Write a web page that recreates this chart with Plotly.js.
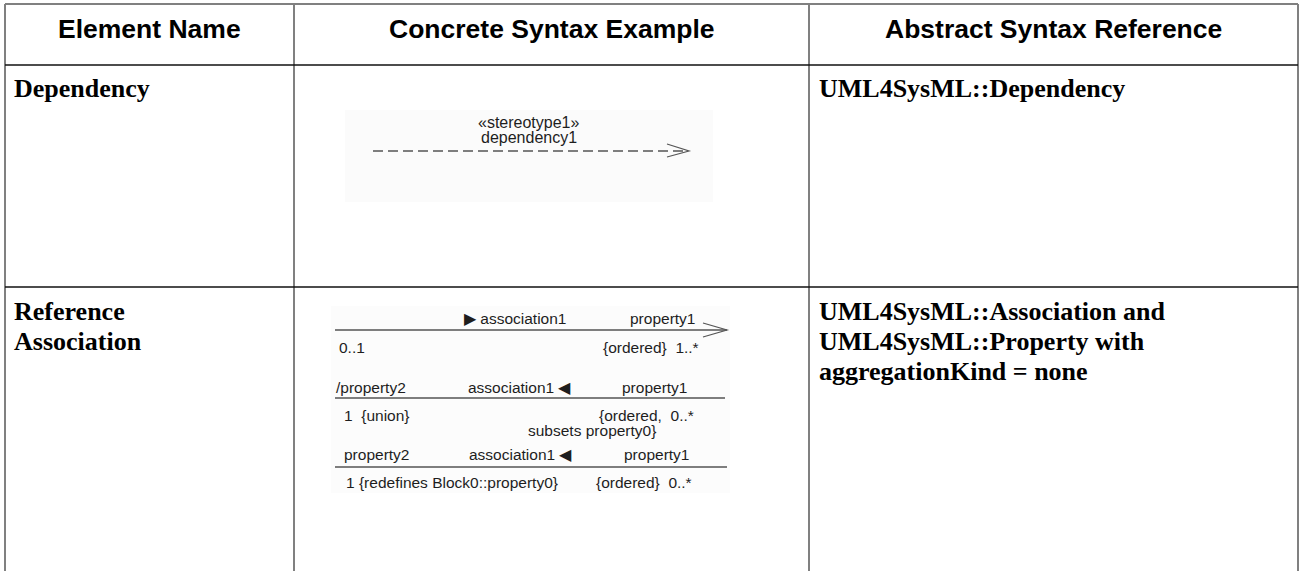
<!DOCTYPE html>
<html>
<head>
<meta charset="utf-8">
<script src="https://cdn.plot.ly/plotly-3.0.1.min.js"></script>
<style>
  html, body { margin: 0; padding: 0; background: #ffffff; }
  #chart { width: 1304px; height: 571px; }
</style>
</head>
<body>
<div id="chart"></div>
<script>
// ---- table content ----
const headerLabels = ['Element Name', 'Concrete Syntax Example', 'Abstract Syntax Reference'];
const elementNames = [['Dependency'], ['Reference', 'Association']];
const abstractRefs = [
  ['UML4SysML::Dependency'],
  ['UML4SysML::Association and', 'UML4SysML::Property with', 'aggregationKind = none']
];

// ---- diagram texts ----
const dependencyLabels = ['«stereotype1»', 'dependency1'];
const assocNameLabels = ['\u25B6 association1', 'association1 \u25C0', 'association1 \u25C0'];
const assocLeftTop = ['', '/property2', 'property2'];
const assocRightTop = ['property1', 'property1', 'property1'];
const assocLeftBottom = ['0..1', '1  {union}', '1 {redefines Block0::property0}'];
const assocRightBottom = ['{ordered}  1..*', '{ordered,  0..*', '{ordered}  0..*'];
const assocExtra = ['', 'subsets property0}', ''];

const SANS = 'Liberation Sans, Arial, sans-serif';
const SERIF = 'Liberation Serif, Times New Roman, serif';
const annotations = [];
const shapes = [];

function txt(x, y, text, font, xanchor) {
  annotations.push({
    x: x, y: y, xref: 'x', yref: 'y', text: text, showarrow: false,
    xanchor: xanchor || 'left', yanchor: 'middle', font: font, borderpad: 0
  });
}
function line(x0, y0, x1, y1, color, width, dash) {
  shapes.push({type: 'line', xref: 'x', yref: 'y', x0: x0, y0: y0, x1: x1, y1: y1,
    line: {color: color, width: width, dash: dash || 'solid'}});
}
function path(d, color, width) {
  shapes.push({type: 'path', xref: 'x', yref: 'y', path: d,
    line: {color: color, width: width}});
}

// ---- diagram backgrounds ----
shapes.push({type: 'rect', xref: 'x', yref: 'y', x0: 345, y0: 110, x1: 713, y1: 202,
  fillcolor: '#fbfbfb', line: {width: 0}, layer: 'below'});
shapes.push({type: 'rect', xref: 'x', yref: 'y', x0: 331, y0: 306, x1: 730, y1: 493,
  fillcolor: '#fcfcfc', line: {width: 0}, layer: 'below'});

// ---- table grid ----
const colX = [5, 294, 809, 1298];
const GRAY = '#808080';
line(colX[0], 4, colX[3], 4, GRAY, 2);
colX.forEach(function (x) { line(x, 4, x, 571, GRAY, 2); });
line(colX[0], 65, colX[3], 65, '#111111', 1.5);
line(colX[0], 287, colX[3], 287, '#111111', 1.5);

// ---- header ----
const hdrFont = {family: SANS, size: 26.5, color: '#000000', weight: 700};
headerLabels.forEach(function (h, i) {
  txt((colX[i] + colX[i + 1]) / 2, 29, '<b>' + h + '</b>', hdrFont, 'center');
});

// ---- body text ----
const bodyFont = {family: SERIF, size: 26, color: '#000000'};
const rowTop = [88, 311];
elementNames.forEach(function (lines, r) {
  lines.forEach(function (t, k) { txt(13, rowTop[r] + k * 30, '<b>' + t + '</b>', bodyFont, 'left'); });
});
abstractRefs.forEach(function (lines, r) {
  lines.forEach(function (t, k) { txt(818, rowTop[r] + k * 30, '<b>' + t + '</b>', bodyFont, 'left'); });
});

// ---- dependency diagram ----
const diaFont = {family: SANS, size: 15.5, color: '#1e1e1e'};
const LC = '#555555';
txt(529, 122, dependencyLabels[0], {family: SANS, size: 16, color: '#1e1e1e'}, 'center');
txt(529, 137, dependencyLabels[1], {family: SANS, size: 16, color: '#1e1e1e'}, 'center');
line(373, 151, 687, 151, LC, 1.3, '10px,5px');
path('M 667 144 L 689 151 L 667 157', LC, 1.2);

// ---- reference association diagram ----
const rowY = [318, 387, 454];       // label row above each line
const lineY = [330, 398, 467];
const lineEnd = [727, 725, 727];
const belowY = [347, 415, 482];
const nameX = [463, 467, 468];
const rightX = [696, 688, 690];
const leftX = [335, 335, 343];
const leftBX = [338, 343, 345];
const rightBX = [700, 695, 693];
for (let i = 0; i < 3; i++) {
  line(335, lineY[i], lineEnd[i], lineY[i], LC, 1.5);
  txt(nameX[i], rowY[i], assocNameLabels[i], diaFont, 'left');
  txt(rightX[i], rowY[i], assocRightTop[i], diaFont, 'right');
  if (assocLeftTop[i]) txt(leftX[i], rowY[i], assocLeftTop[i], diaFont, 'left');
  txt(leftBX[i], belowY[i], assocLeftBottom[i], diaFont, 'left');
  txt(rightBX[i], belowY[i], assocRightBottom[i], diaFont, 'right');
  if (assocExtra[i]) txt(592, 430, assocExtra[i], diaFont, 'center');
}
path('M 703 323 L 727 330 L 703 337', LC, 1.2);

const layout = {
  width: 1304, height: 571,
  margin: {l: 0, r: 0, t: 0, b: 0, pad: 0},
  paper_bgcolor: '#ffffff', plot_bgcolor: '#ffffff',
  xaxis: {range: [0, 1304], visible: false, fixedrange: true},
  yaxis: {range: [571, 0], visible: false, fixedrange: true},
  showlegend: false,
  shapes: shapes,
  annotations: annotations
};
Plotly.newPlot('chart', [{x: [], y: [], type: 'scatter', mode: 'markers', hoverinfo: 'skip'}], layout,
  {staticPlot: true, displayModeBar: false});
</script>
</body>
</html>
